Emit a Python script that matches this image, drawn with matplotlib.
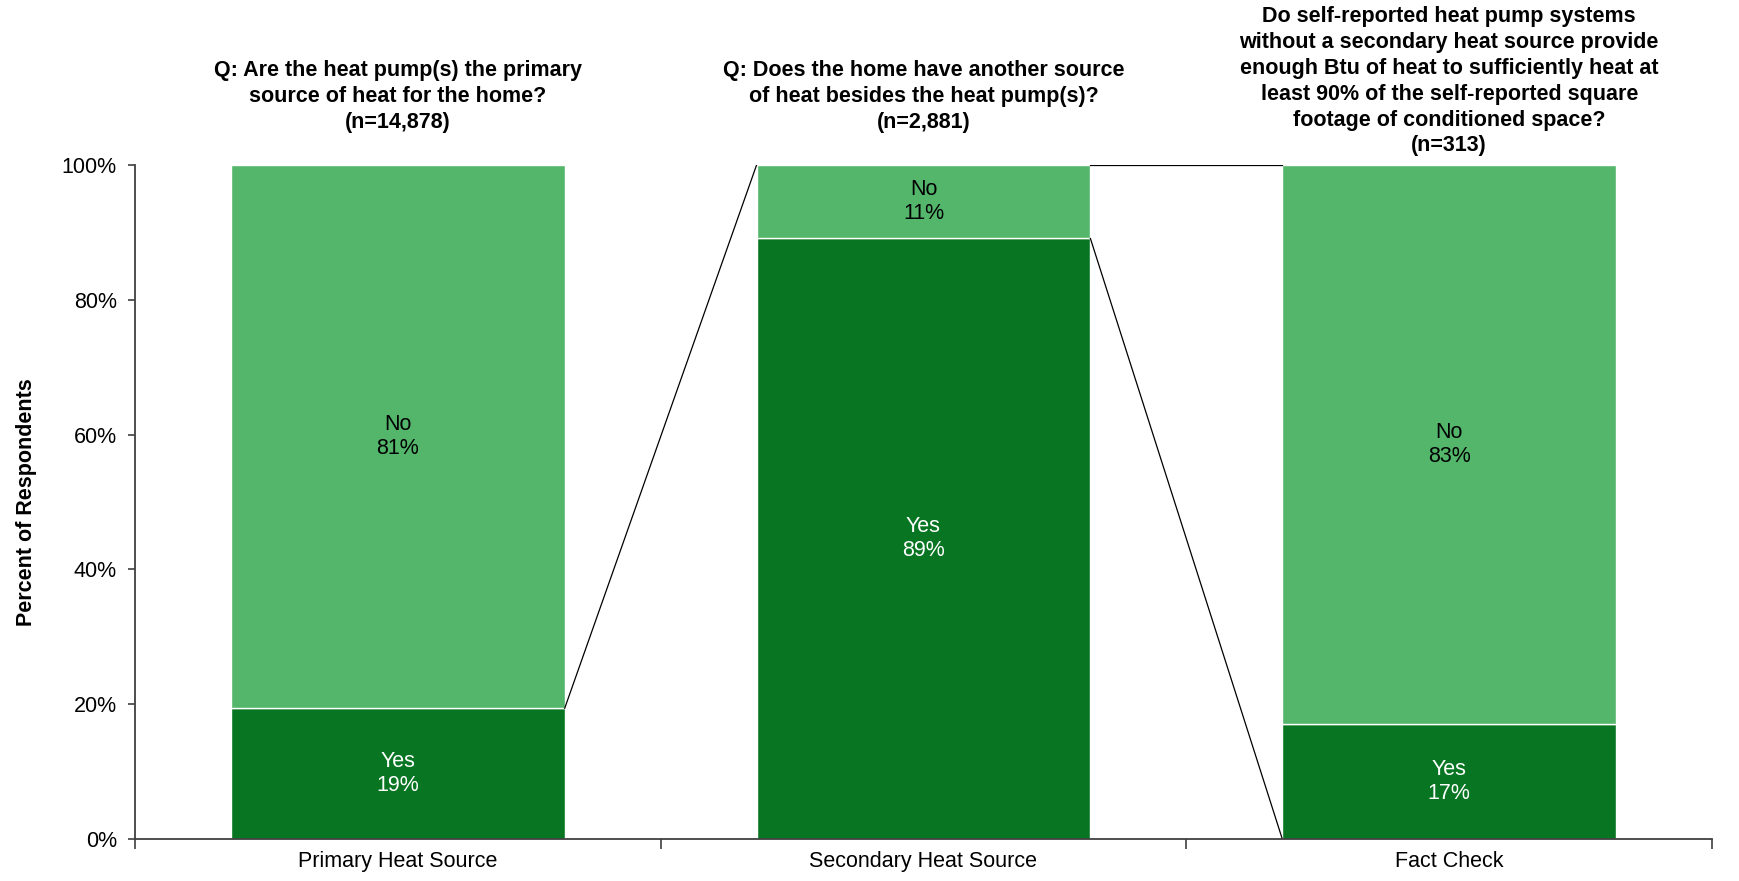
import matplotlib
matplotlib.use("Agg")
import matplotlib.pyplot as plt
import matplotlib.transforms as mtransforms

# data (percent of respondents)
categories = ["Primary Heat Source", "Secondary Heat Source", "Fact Check"]
yes_vals = [19.4, 89.1, 17.0]
no_vals = [80.6, 10.9, 83.0]
yes_labels = ["Yes\n19%", "Yes\n89%", "Yes\n17%"]
no_labels = ["No\n81%", "No\n11%", "No\n83%"]
titles = [
    "Q: Are the heat pump(s) the primary\nsource of heat for the home?\n(n=14,878)",
    "Q: Does the home have another source\nof heat besides the heat pump(s)?\n(n=2,881)",
    "Do self-reported heat pump systems\nwithout a secondary heat source provide\n"
    "enough Btu of heat to sufficiently heat at\nleast 90% of the self-reported square\n"
    "footage of conditioned space?\n(n=313)",
]

LIGHT = "#53B66B"
DARK = "#077521"
AXC = "#404040"
FS = 15.5

plt.rcParams["font.family"] = ["Liberation Sans", "DejaVu Sans"]

fig = plt.figure(figsize=(17.39, 8.81), dpi=100)
ax = fig.add_axes([0.0776, 0.0477, 0.9069, 0.765])

x = list(range(len(categories)))
w = 0.635
ax.bar(x, yes_vals, width=w, color=DARK, edgecolor="white", linewidth=1)
ax.bar(x, no_vals, width=w, bottom=yes_vals, color=LIGHT, edgecolor="white", linewidth=1)

for i in x:
    ax.text(i, yes_vals[i] / 2, yes_labels[i], ha="center", va="center",
            color="white", fontsize=FS, linespacing=1.2)
    ax.text(i, yes_vals[i] + no_vals[i] / 2, no_labels[i], ha="center", va="center",
            color="black", fontsize=FS, linespacing=1.2)

# connector lines between bars
h = w / 2
ax.plot([0 + h, 1 - h], [yes_vals[0], 100], color="black", lw=0.9)
ax.plot([1 + h, 2 - h], [yes_vals[1], 0], color="black", lw=0.9)
ax.plot([1 + h, 2 - h], [100, 100], color="black", lw=0.9)

# titles above each bar
trans = mtransforms.blended_transform_factory(ax.transData, fig.transFigure)
title_y = [0.8905, 0.8905, 0.9075]
for i in x:
    ax.text(i, title_y[i], titles[i], transform=trans, ha="center", va="center",
            fontsize=FS, fontweight="bold", linespacing=1.3)

ax.set_xlim(-0.5, 2.5)
ax.set_ylim(0, 100)
ax.set_yticks([0, 20, 40, 60, 80, 100])
ax.set_yticklabels(["%d%%" % v for v in [0, 20, 40, 60, 80, 100]])
ax.set_xticks([-0.5, 0.5, 1.5, 2.5])
ax.set_xticklabels([])
ax.set_xticks(x, minor=True)
ax.set_xticklabels(categories, minor=True)
ax.tick_params(axis="x", which="major", length=7, width=1.2, color=AXC, direction="out")
ax.tick_params(axis="x", which="minor", length=0, pad=9, labelsize=FS)
ax.tick_params(axis="y", length=5, width=1.2, color=AXC, pad=8, labelsize=FS)

for s in ["top", "right"]:
    ax.spines[s].set_visible(False)
for s in ["left", "bottom"]:
    ax.spines[s].set_color(AXC)
    ax.spines[s].set_linewidth(1.3)

ax.set_ylabel("Percent of Respondents", fontsize=FS, fontweight="bold")
ax.yaxis.set_label_coords(-0.0621, 0.5)

fig.savefig("out.png", dpi=100)
